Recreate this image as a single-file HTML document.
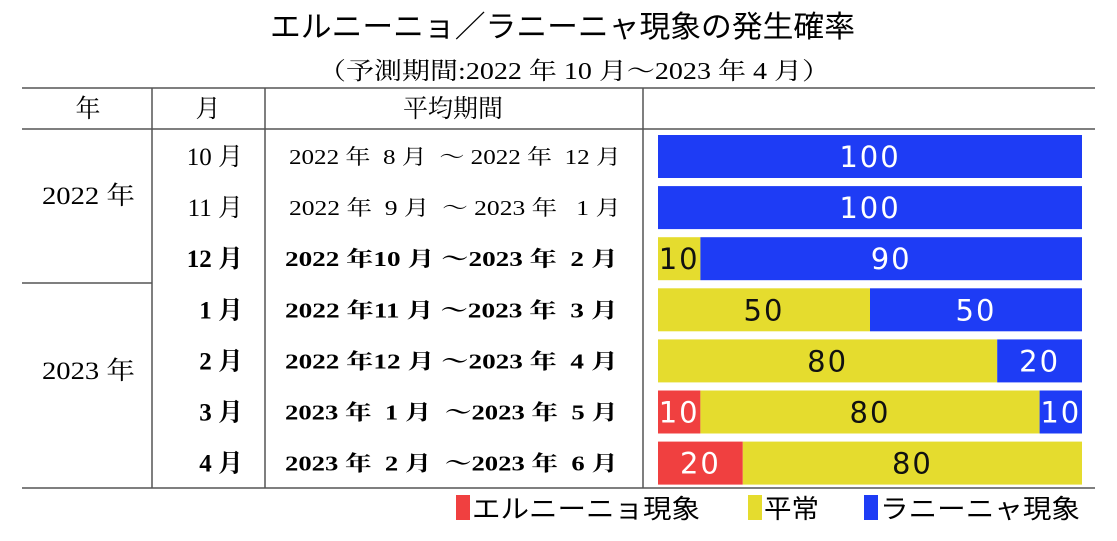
<!DOCTYPE html>
<html><head><meta charset="utf-8"><style>
body{margin:0;width:1117px;height:536px;background:#fff;overflow:hidden;font-family:"Liberation Serif","Noto Serif CJK SC",serif;}
svg text{font-family:"Liberation Serif","Noto Serif CJK JP","Noto Serif CJK SC",serif;}
</style></head><body>
<svg id="c" width="1117" height="536" xmlns="http://www.w3.org/2000/svg">
<text x="270" y="37" textLength="585" lengthAdjust="spacingAndGlyphs" font-size="30" style="font-family:'Liberation Sans','Noto Sans CJK JP',sans-serif">エルニーニョ／ラニーニャ現象の発生確率</text>
<text x="318" y="79" textLength="512" lengthAdjust="spacingAndGlyphs" font-size="24">（予測期間:2022 年 10 月～2023 年 4 月）</text>
<g stroke="#555" stroke-width="1.5">
<line x1="22" y1="88" x2="1095" y2="88"/>
<line x1="22" y1="129" x2="1095" y2="129"/>
<line x1="22" y1="488" x2="1095" y2="488"/>
<line x1="22" y1="283" x2="152" y2="283"/>
<line x1="152" y1="88" x2="152" y2="488"/>
<line x1="265" y1="88" x2="265" y2="488"/>
<line x1="643" y1="88" x2="643" y2="488"/>
</g>
<text x="88" y="117" text-anchor="middle" font-size="25">年</text>
<text x="208" y="117" text-anchor="middle" font-size="25">月</text>
<text x="453" y="117" text-anchor="middle" font-size="25">平均期間</text>
<text x="42" y="204" textLength="93" lengthAdjust="spacingAndGlyphs" font-size="25">2022 年</text>
<text x="42" y="379" textLength="93" lengthAdjust="spacingAndGlyphs" font-size="25">2023 年</text>
<g id="rows"></g>
<g id="bars"></g>
<g font-size="26">
<rect x="456" y="495" width="14" height="25" fill="#f04040"/>
<text x="472" y="518" textLength="228" lengthAdjust="spacingAndGlyphs" style="font-family:'Liberation Sans','Noto Sans CJK JP',sans-serif">エルニーニョ現象</text>
<rect x="748" y="495" width="14" height="25" fill="#e5dc2e"/>
<text x="764" y="518" textLength="55" lengthAdjust="spacingAndGlyphs" style="font-family:'Liberation Sans','Noto Sans CJK JP',sans-serif">平常</text>
<rect x="864" y="495" width="14" height="25" fill="#1e3cf5"/>
<text x="880" y="518" textLength="200" lengthAdjust="spacingAndGlyphs" style="font-family:'Liberation Sans','Noto Sans CJK JP',sans-serif">ラニーニャ現象</text>
</g>
</svg>
<script>
const months=["10 月","11 月","12 月","1 月","2 月","3 月","4 月"];
const periods=["2022 年  8 月  ～ 2022 年  12 月","2022 年  9 月  ～ 2023 年   1 月","2022 年10 月 ～2023 年  2 月","2022 年11 月 ～2023 年  3 月","2022 年12 月 ～2023 年  4 月","2023 年  1 月  ～2023 年  5 月","2023 年  2 月  ～2023 年  6 月"];
const elNino=[0,0,0,0,0,10,20];
const normal=[0,0,10,50,80,80,80];
const laNina=[100,100,90,50,20,10,0];
const NS="http://www.w3.org/2000/svg";
const rowsG=document.getElementById('rows'),barsG=document.getElementById('bars');
const x0=658,W=424,y0=135,step=51.1,bh=43;
const xs=v=>v/100*W;
const yRow=i=>y0+i*step;
const colors=["#f04040","#e5dc2e","#1e3cf5"],txt=["#fff","#111","#fff"],names=["elnino","normal","lanina"];
months.forEach((m,i)=>{
  const bold=i>=2;
  const t=document.createElementNS(NS,'text');
  
  
  t.setAttribute('x',243);t.setAttribute('y',yRow(i)+30);t.setAttribute('text-anchor','end');
  t.setAttribute('font-size','25');if(bold)t.setAttribute('font-weight','bold');
  t.textContent=m;rowsG.appendChild(t);
  const p=document.createElementNS(NS,'text');
  
  
  p.setAttribute('x',bold?285:289);p.setAttribute('y',yRow(i)+29);
  p.setAttribute('textLength',bold?333:332);p.setAttribute('lengthAdjust','spacingAndGlyphs');
  p.setAttribute('font-size','21');p.style.whiteSpace='pre';
  if(bold)p.setAttribute('font-weight','bold');
  p.textContent=periods[i];rowsG.appendChild(p);
  let acc=0;
  [elNino[i],normal[i],laNina[i]].forEach((v,k)=>{
    if(v<=0)return;
    const r=document.createElementNS(NS,'rect');
    
    
    r.setAttribute('x',x0+xs(acc));r.setAttribute('y',yRow(i));
    r.setAttribute('width',xs(v));r.setAttribute('height',bh);r.setAttribute('fill',colors[k]);
    barsG.appendChild(r);
    const l=document.createElementNS(NS,'text');
    
    
    l.setAttribute('x',x0+xs(acc+v/2));l.setAttribute('y',yRow(i)+32);
    l.setAttribute('text-anchor','middle');l.setAttribute('font-size','29');
    l.setAttribute('fill',txt[k]);l.setAttribute('letter-spacing','2');
    l.style.fontFamily="'DejaVu Sans','Liberation Sans',sans-serif";
    l.textContent=v;barsG.appendChild(l);
    acc+=v;
  });
});
</script>
</body></html>
